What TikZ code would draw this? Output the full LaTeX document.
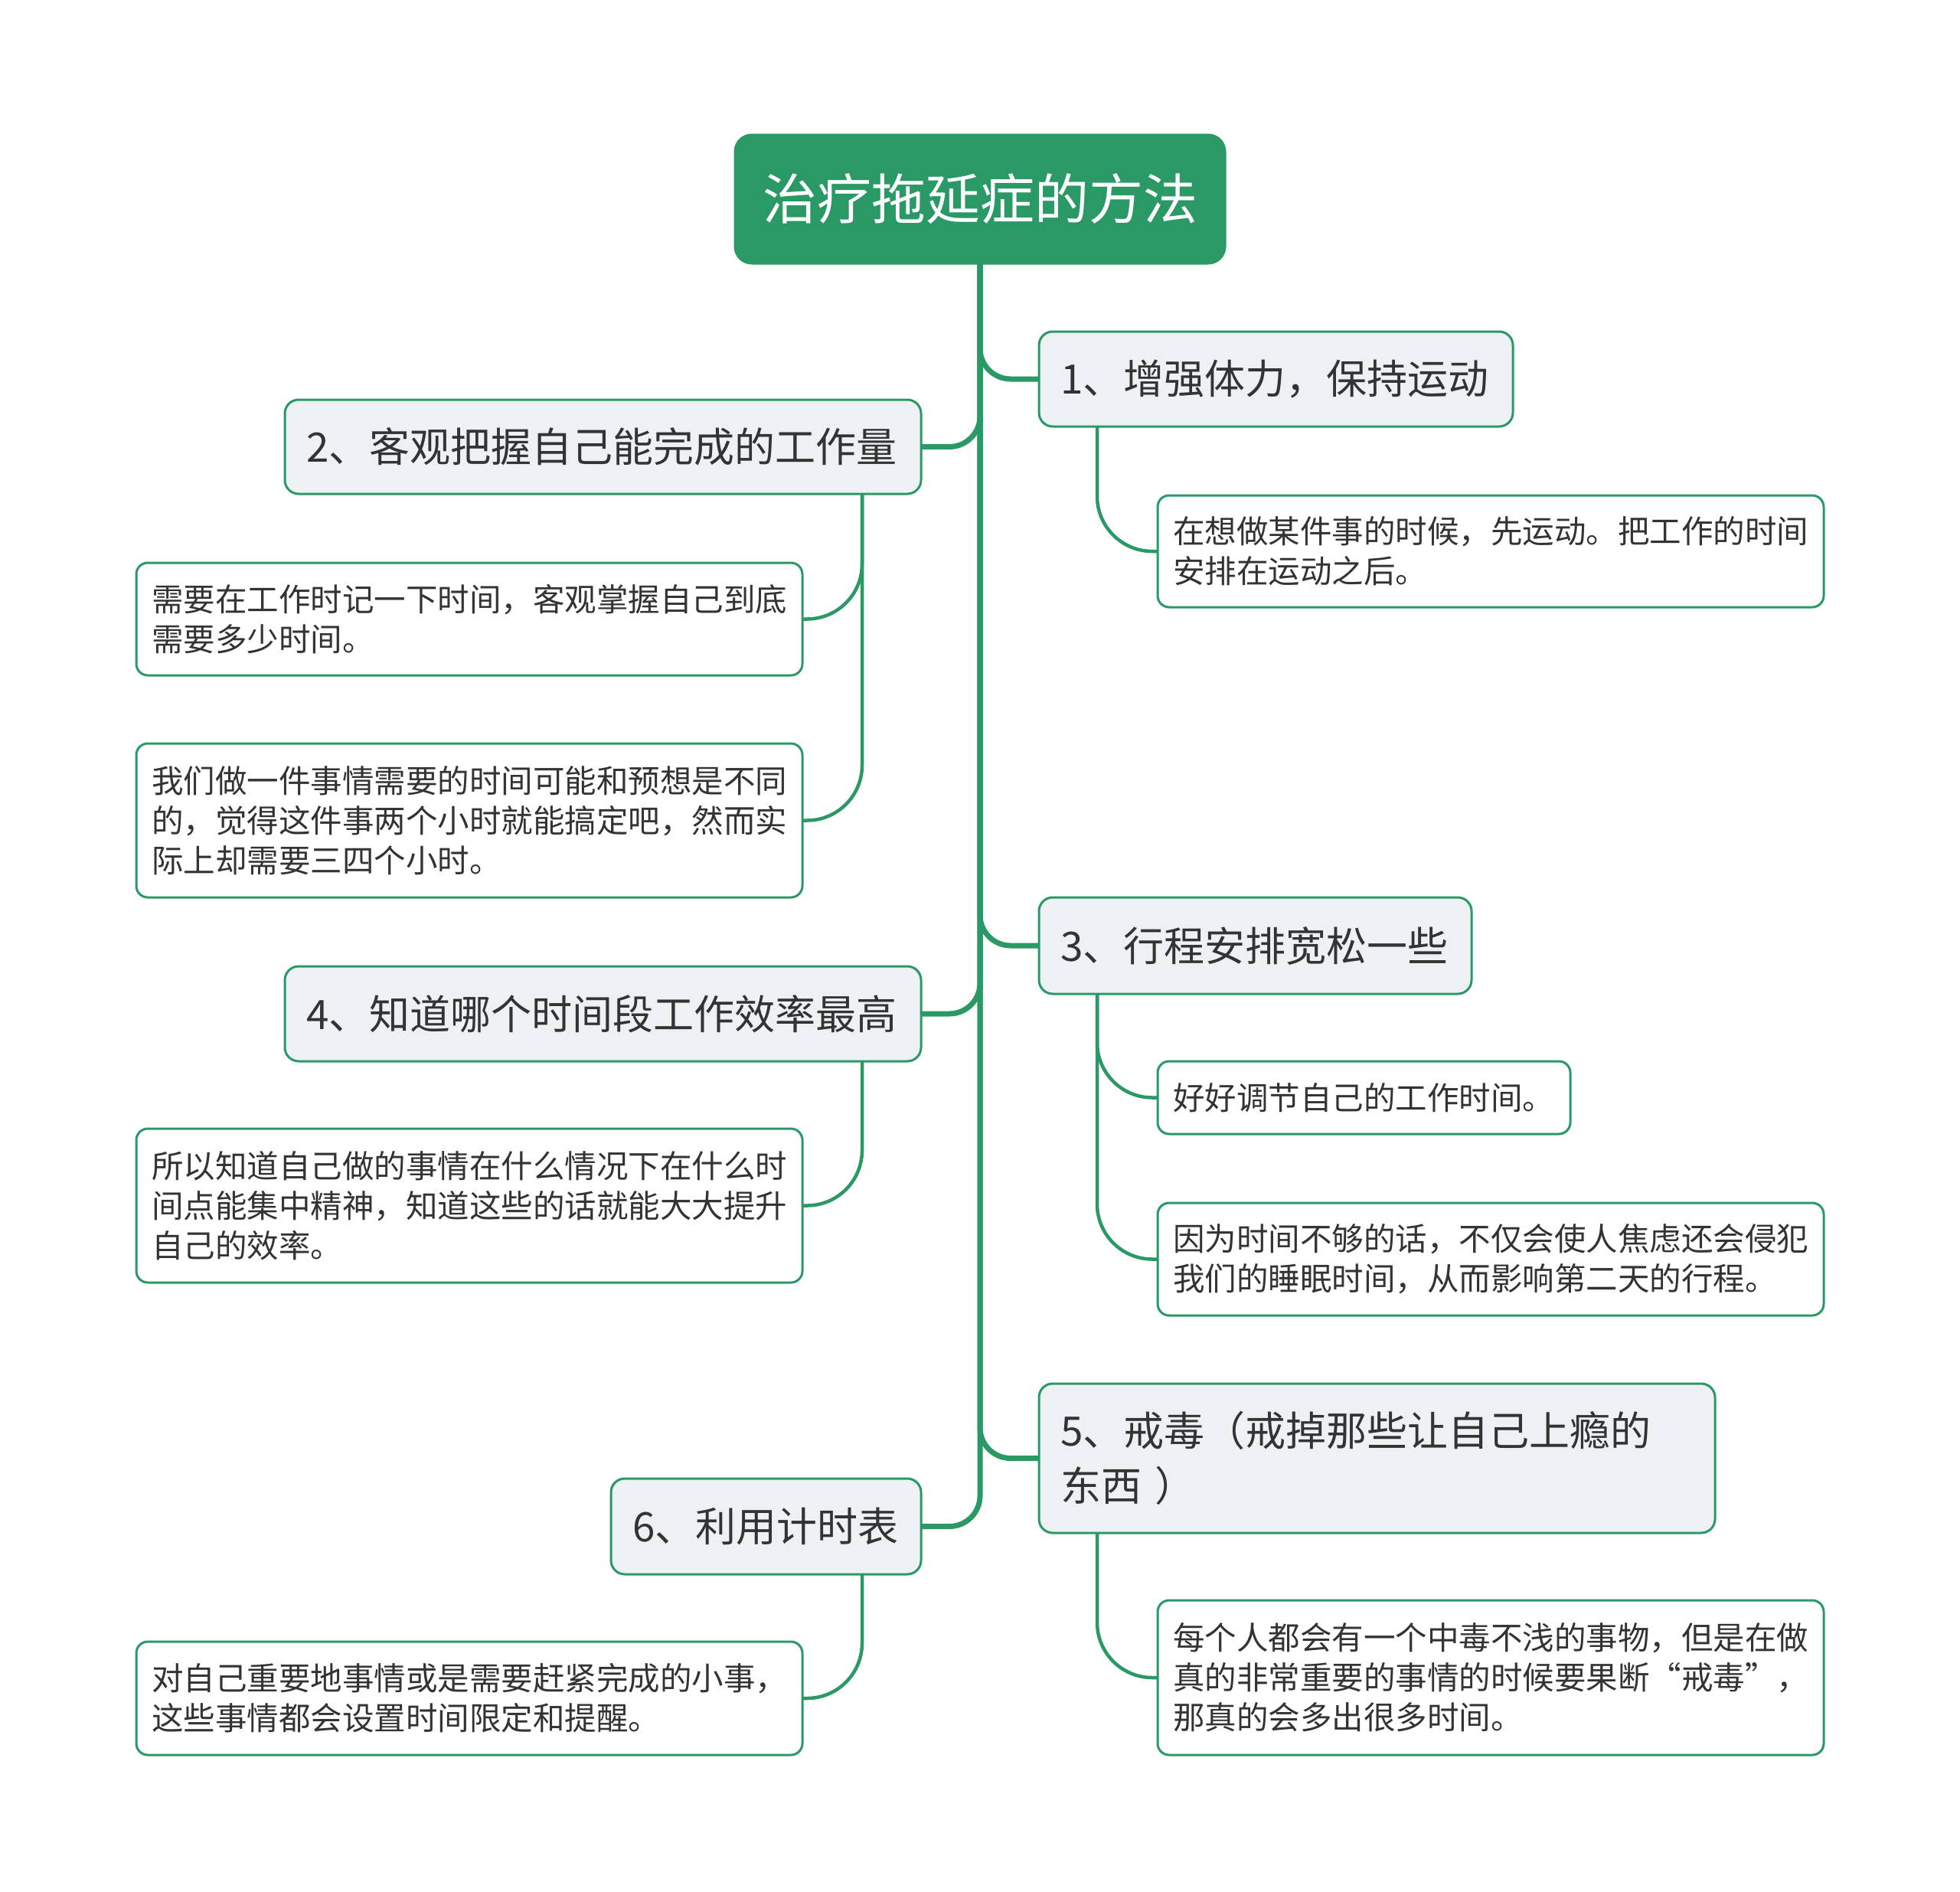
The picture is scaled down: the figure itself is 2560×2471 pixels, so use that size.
\documentclass[tikz,border=0pt]{standalone}
\usepackage{fontspec}
\newfontfamily\cjk{Noto Sans CJK SC}
\usetikzlibrary{calc}
\definecolor{mmgreen}{HTML}{2A9966}
\definecolor{lvfill}{HTML}{EEF1F4}
\definecolor{txtgray}{HTML}{333333}
\begin{document}
\begin{tikzpicture}[x=1pt,y=-1pt,
  rootbox/.style={draw=mmgreen, line width=3pt, fill=mmgreen, rounded corners=22pt, text=white,
    font=\cjk\fontsize{71}{85}\selectfont, inner sep=0pt, outer sep=0pt},
  topicbox/.style={draw=mmgreen, line width=3pt, fill=lvfill, rounded corners=18pt, text=txtgray,
    font=\cjk\fontsize{53}{72}\selectfont, align=left, inner xsep=28pt, inner ysep=0pt, outer sep=0pt, anchor=north west},
  leafbox/.style={draw=mmgreen, line width=3pt, fill=white, rounded corners=15pt, text=txtgray,
    font=\cjk\fontsize{41.5}{52}\selectfont, align=left, inner xsep=20pt, inner ysep=0pt, outer sep=0pt, anchor=north west,
    text width=830pt},
  trunkline/.style={draw=mmgreen, line width=7pt, rounded corners=40pt},
  leafline/.style={draw=mmgreen, line width=4.5pt, rounded corners=72pt},
]
\useasboundingbox (0,0) rectangle (2560,2471);

% root
\node[rootbox, minimum width=640pt, minimum height=168pt] (root) at (1280,260) {治疗拖延症的方法};

% main topics
\node[topicbox, text width=563pt, minimum height=124pt] (n1) at (1357,433) {1、增强体力，保持运动};
\node[topicbox, text width=775pt, minimum height=123pt] (n2) at (372,522) {2、客观把握自己能完成的工作量};
\node[topicbox, text width=509pt, minimum height=126pt] (n3) at (1357,1172) {3、行程安排宽松一些};
\node[topicbox, text width=775pt, minimum height=124pt] (n4) at (372,1262) {4、知道哪个时间段工作效率最高};
\node[topicbox, text width=827pt, minimum height=195pt] (n5) at (1357,1807) {5、戒毒（戒掉那些让自己上瘾的\\东西 ）};
\node[topicbox, text width=349pt, minimum height=125pt] (n6) at (798,1931) {6、利用计时表};

% leaves
\node[leafbox, minimum height=146pt] (c1a) at (1512,647) {在想做某件事的时候，先运动。把工作的时间\\安排在运动之后。};
\node[leafbox, minimum height=147pt] (c2a) at (178,735) {需要在工作时记一下时间，客观掌握自己到底\\需要多少时间。};
\node[leafbox, minimum height=201pt] (c2b) at (178,971) {我们做一件事情需要的时间可能和预想是不同\\的，觉得这件事两个小时就能搞定吧，然而实\\际上却需要三四个小时。};
\node[leafbox, text width=499pt, minimum height=95pt] (c3a) at (1512,1386) {好好调节自己的工作时间。};
\node[leafbox, minimum height=147pt] (c3b) at (1512,1571) {因为时间不够的话，不仅会使人焦虑还会侵犯\\我们的睡眠时间，从而影响第二天的行程。};
\node[leafbox, minimum height=201pt] (c4a) at (178,1474) {所以知道自己做的事情在什么情况下在什么时\\间点能集中精神，知道这些的话就能大大提升\\自己的效率。};
\node[leafbox, minimum height=202pt] (c5a) at (1512,2090) {每个人都会有一个中毒不浅的事物，但是在做\\真的非常重要的事情的时候要果断“戒毒”，\\那真的会多出很多时间。};
\node[leafbox, minimum height=148pt] (c6a) at (178,2144) {对自己重要地事情或是需要赶紧完成的小事，\\这些事情都会设置时间限定和提醒。};

% trunk connectors
\draw[trunkline] (root.south) |- (n1.west);
\draw[trunkline] (root.south) |- (n2.east);
\draw[trunkline] (root.south) |- (n3.west);
\draw[trunkline] (root.south) |- (n4.east);
\draw[trunkline] (root.south) |- (n5.west);
\draw[trunkline] (root.south) |- (n6.east);

% leaf connectors
\draw[leafline] ($(n1.south west)+(76,0)$) |- (c1a.west);
\draw[leafline] ($(n2.south east)+(-77,0)$) |- (c2a.east);
\draw[leafline] ($(n2.south east)+(-77,0)$) |- (c2b.east);
\draw[leafline] ($(n3.south west)+(76,0)$) |- (c3a.west);
\draw[leafline] ($(n3.south west)+(76,0)$) |- (c3b.west);
\draw[leafline] ($(n4.south east)+(-77,0)$) |- (c4a.east);
\draw[leafline] ($(n5.south west)+(76,0)$) |- (c5a.west);
\draw[leafline] ($(n6.south east)+(-77,0)$) |- (c6a.east);
\end{tikzpicture}
\end{document}
